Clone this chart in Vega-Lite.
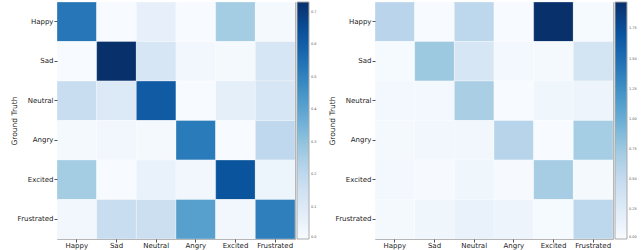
{
  "$schema": "https://vega.github.io/schema/vega-lite/v6.json",
  "padding": {"left": 9, "top": 1, "right": 0, "bottom": 0},
  "background": "white",
  "spacing": 80,
  "bounds": "flush",
  "config": {
    "view": {"stroke": "#aaaaaa", "strokeWidth": 1},
    "axis": {
      "labelFont": "DejaVu Sans", "labelFontSize": 7, "labelColor": "#222222",
      "titleFont": "DejaVu Sans", "titleFontSize": 7.5, "titleFontWeight": "normal", "titleColor": "#222222",
      "tickColor": "#555555", "tickSize": 3, "labelPadding": 1, "domain": false, "grid": false
    },
    "legend": {
      "labelFont": "DejaVu Sans", "labelFontSize": 3.5, "labelColor": "#555555",
      "gradientLength": 237, "gradientThickness": 12, "offset": 2, "padding": 0,
      "gradientStrokeColor": "#aaaaaa", "gradientStrokeWidth": 1, "labelOverlap": false, "labelOffset": 3
    }
  },
  "datasets": {
    "a": [
      {"t": "Happy", "p": "Happy", "v": 0.53}, {"t": "Happy", "p": "Sad", "v": 0.0}, {"t": "Happy", "p": "Neutral", "v": 0.06}, {"t": "Happy", "p": "Angry", "v": 0.0}, {"t": "Happy", "p": "Excited", "v": 0.26}, {"t": "Happy", "p": "Frustrated", "v": 0.01},
      {"t": "Sad", "p": "Happy", "v": 0.0}, {"t": "Sad", "p": "Sad", "v": 0.73}, {"t": "Sad", "p": "Neutral", "v": 0.12}, {"t": "Sad", "p": "Angry", "v": 0.02}, {"t": "Sad", "p": "Excited", "v": 0.01}, {"t": "Sad", "p": "Frustrated", "v": 0.12},
      {"t": "Neutral", "p": "Happy", "v": 0.17}, {"t": "Neutral", "p": "Sad", "v": 0.1}, {"t": "Neutral", "p": "Neutral", "v": 0.61}, {"t": "Neutral", "p": "Angry", "v": 0.0}, {"t": "Neutral", "p": "Excited", "v": 0.07}, {"t": "Neutral", "p": "Frustrated", "v": 0.12},
      {"t": "Angry", "p": "Happy", "v": 0.01}, {"t": "Angry", "p": "Sad", "v": 0.02}, {"t": "Angry", "p": "Neutral", "v": 0.01}, {"t": "Angry", "p": "Angry", "v": 0.52}, {"t": "Angry", "p": "Excited", "v": 0.0}, {"t": "Angry", "p": "Frustrated", "v": 0.2},
      {"t": "Excited", "p": "Happy", "v": 0.26}, {"t": "Excited", "p": "Sad", "v": 0.0}, {"t": "Excited", "p": "Neutral", "v": 0.05}, {"t": "Excited", "p": "Angry", "v": 0.02}, {"t": "Excited", "p": "Excited", "v": 0.63}, {"t": "Excited", "p": "Frustrated", "v": 0.04},
      {"t": "Frustrated", "p": "Happy", "v": 0.02}, {"t": "Frustrated", "p": "Sad", "v": 0.17}, {"t": "Frustrated", "p": "Neutral", "v": 0.16}, {"t": "Frustrated", "p": "Angry", "v": 0.41}, {"t": "Frustrated", "p": "Excited", "v": 0.02}, {"t": "Frustrated", "p": "Frustrated", "v": 0.51}
    ],
    "b": [
      {"t": "Happy", "p": "Happy", "v": 0.57}, {"t": "Happy", "p": "Sad", "v": 0.0}, {"t": "Happy", "p": "Neutral", "v": 0.55}, {"t": "Happy", "p": "Angry", "v": 0.0}, {"t": "Happy", "p": "Excited", "v": 1.97}, {"t": "Happy", "p": "Frustrated", "v": 0.02},
      {"t": "Sad", "p": "Happy", "v": 0.02}, {"t": "Sad", "p": "Sad", "v": 0.75}, {"t": "Sad", "p": "Neutral", "v": 0.33}, {"t": "Sad", "p": "Angry", "v": 0.04}, {"t": "Sad", "p": "Excited", "v": 0.03}, {"t": "Sad", "p": "Frustrated", "v": 0.36},
      {"t": "Neutral", "p": "Happy", "v": 0.05}, {"t": "Neutral", "p": "Sad", "v": 0.05}, {"t": "Neutral", "p": "Neutral", "v": 0.67}, {"t": "Neutral", "p": "Angry", "v": 0.0}, {"t": "Neutral", "p": "Excited", "v": 0.08}, {"t": "Neutral", "p": "Frustrated", "v": 0.1},
      {"t": "Angry", "p": "Happy", "v": 0.03}, {"t": "Angry", "p": "Sad", "v": 0.06}, {"t": "Angry", "p": "Neutral", "v": 0.06}, {"t": "Angry", "p": "Angry", "v": 0.59}, {"t": "Angry", "p": "Excited", "v": 0.0}, {"t": "Angry", "p": "Frustrated", "v": 0.7},
      {"t": "Excited", "p": "Happy", "v": 0.05}, {"t": "Excited", "p": "Sad", "v": 0.01}, {"t": "Excited", "p": "Neutral", "v": 0.08}, {"t": "Excited", "p": "Angry", "v": 0.01}, {"t": "Excited", "p": "Excited", "v": 0.69}, {"t": "Excited", "p": "Frustrated", "v": 0.03},
      {"t": "Frustrated", "p": "Happy", "v": 0.03}, {"t": "Frustrated", "p": "Sad", "v": 0.08}, {"t": "Frustrated", "p": "Neutral", "v": 0.14}, {"t": "Frustrated", "p": "Angry", "v": 0.1}, {"t": "Frustrated", "p": "Excited", "v": 0.02}, {"t": "Frustrated", "p": "Frustrated", "v": 0.55}
    ]
  },
  "hconcat": [
    {
      "width": 238, "height": 237,
      "data": {"name": "a"},
      "mark": {"type": "rect", "stroke": "white", "strokeWidth": 0.6, "strokeOpacity": 0.5},
      "encoding": {
        "x": {"field": "p", "type": "nominal", "scale": {"domain": ["Happy", "Sad", "Neutral", "Angry", "Excited", "Frustrated"]},
              "axis": {"title": "Predicted", "labelAngle": 0, "labelPadding": -1, "titleY": 10, "titleBaseline": "top"}},
        "y": {"field": "t", "type": "nominal", "scale": {"domain": ["Happy", "Sad", "Neutral", "Angry", "Excited", "Frustrated"]},
              "axis": {"title": "Ground Truth", "titleX": -43, "titleY": 118.5, "titleAngle": -90, "titleBaseline": "middle", "titleAlign": "center"}},
        "color": {"field": "v", "type": "quantitative",
                  "scale": {"domain": [0, 0.73], "range": ["#f7fbff", "#deebf7", "#c6dbef", "#9ecae1", "#6baed6", "#4292c6", "#2171b5", "#08519c", "#08306b"]},
                  "legend": {"title": null, "values": [0, 0.1, 0.2, 0.3, 0.4, 0.5, 0.6, 0.7], "format": ".1f"}}
      }
    },
    {
      "width": 238, "height": 237,
      "data": {"name": "b"},
      "mark": {"type": "rect", "stroke": "white", "strokeWidth": 0.6, "strokeOpacity": 0.5},
      "encoding": {
        "x": {"field": "p", "type": "nominal", "scale": {"domain": ["Happy", "Sad", "Neutral", "Angry", "Excited", "Frustrated"]},
              "axis": {"title": "Predicted", "labelAngle": 0, "labelPadding": -1, "titleY": 10, "titleBaseline": "top"}},
        "y": {"field": "t", "type": "nominal", "scale": {"domain": ["Happy", "Sad", "Neutral", "Angry", "Excited", "Frustrated"]},
              "axis": {"title": "Ground Truth", "titleX": -43, "titleY": 118.5, "titleAngle": -90, "titleBaseline": "middle", "titleAlign": "center"}},
        "color": {"field": "v", "type": "quantitative",
                  "scale": {"domain": [0, 1.97], "range": ["#f7fbff", "#deebf7", "#c6dbef", "#9ecae1", "#6baed6", "#4292c6", "#2171b5", "#08519c", "#08306b"]},
                  "legend": {"title": null, "values": [0, 0.25, 0.5, 0.75, 1, 1.25, 1.5, 1.75], "format": ".2f"}}
      }
    }
  ],
  "resolve": {"scale": {"color": "independent"}, "legend": {"color": "independent"}}
}
